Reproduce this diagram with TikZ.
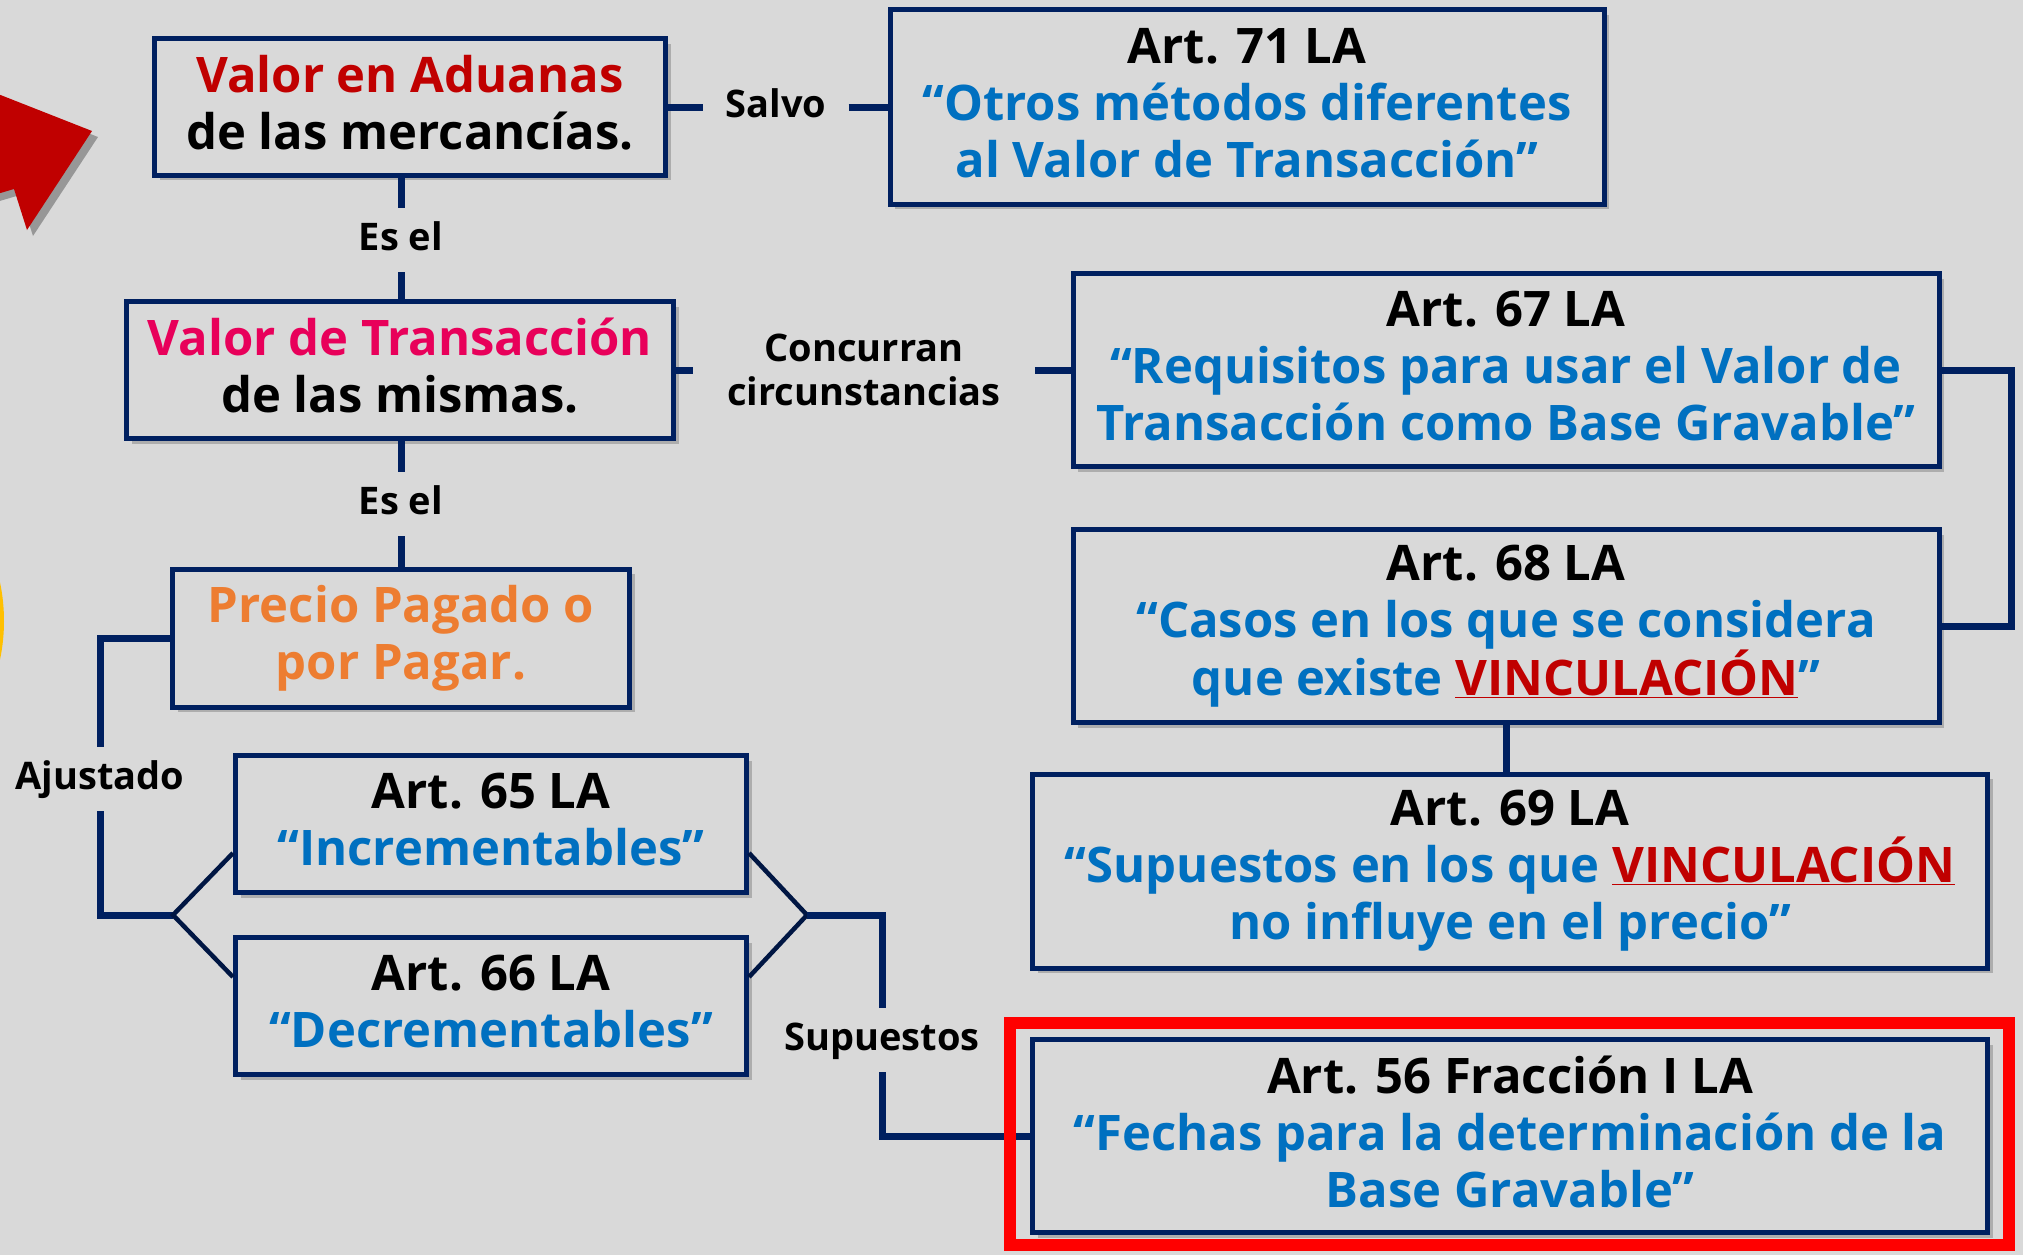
\documentclass[tikz,border=0pt]{standalone}
\usepackage{fontspec}
\setmainfont{Open Sans}
\usetikzlibrary{shadows}

\definecolor{fondo}{HTML}{D9D9D9}
\definecolor{marino}{HTML}{002060}
\definecolor{rojoad}{HTML}{C00000}
\definecolor{rosa}{HTML}{E8005A}
\definecolor{naranja}{HTML}{ED7D31}
\definecolor{azulart}{HTML}{0070C0}
\definecolor{oro}{HTML}{FFC000}

\newcommand{\azul}[1]{\textcolor{azulart}{#1}}
\newcommand{\vinc}{\textcolor{rojoad}{\underline{VINCULACIÓN}}}

\tikzset{
  caja/.style={draw=marino, line width=5pt, fill=fondo, align=center, inner sep=0pt,
    font=\fontsize{49}{57}\selectfont\bfseries,
    execute at end node={\rule[-9pt]{0pt}{0pt}},
    drop shadow={shadow xshift=5pt, shadow yshift=-5pt, fill=black, opacity=.2}},
  etiq/.style={align=center, inner xsep=22pt, inner ysep=13pt, text height=29pt, text depth=9pt,
    font=\fontsize{38}{44}\selectfont\bfseries},
  con/.style={draw=marino, line width=7pt},
  diag/.style={draw=marino!70!black, line width=4.5pt},
}

\begin{document}
\begin{tikzpicture}[x=1pt,y=-1pt]
\useasboundingbox (0,0) rectangle (2023,1255);
\clip (0,0) rectangle (2023,1255);
\fill[fondo] (0,0) rectangle (2023,1255);
% restos de la diapositiva en el borde izquierdo
\fill[oro] (-183,621) circle[radius=187];
\fill[rojoad, drop shadow={shadow xshift=6pt, shadow yshift=-6pt, fill=black, opacity=.3}]
  (-30,83) -- (92,131) -- (27,230) -- (14,189) -- (-30,202) -- cycle;

% cajas
\node[caja, minimum width=511pt, minimum height=136pt] (aduanas) at (410,107)
  {\textcolor{rojoad}{Valor en Aduanas}\\de las mercancías.};
\node[caja, minimum width=714pt, minimum height=194pt] (art71) at (1247,107)
  {Art. 71 LA\\\azul{“Otros métodos diferentes}\\\azul{al Valor de Transacción”}};
\node[caja, minimum width=547pt, minimum height=137pt] (trans) at (400,370)
  {\textcolor{rosa}{Valor de Transacción}\\de las mismas.};
\node[caja, minimum width=866pt, minimum height=193pt] (art67) at (1506,370)
  {Art. 67 LA\\\azul{“Requisitos para usar el Valor de}\\\azul{Transacción como Base Gravable”}};
\node[caja, minimum width=866pt, minimum height=193pt] (art68) at (1506,626)
  {Art. 68 LA\\\azul{“Casos en los que se considera}\\\azul{que existe }\vinc\azul{”}};
\node[caja, minimum width=955pt, minimum height=194pt] (art69) at (1510,871)
  {Art. 69 LA\\\azul{“Supuestos en los que }\vinc\\\azul{no influye en el precio”}};
\node[caja, minimum width=457pt, minimum height=138pt] (precio) at (401,638)
  {\textcolor{naranja}{Precio Pagado o}\\\textcolor{naranja}{por Pagar.}};
\node[caja, minimum width=511pt, minimum height=137pt] (art65) at (491,824)
  {Art. 65 LA\\\azul{“Incrementables”}};
\node[caja, minimum width=511pt, minimum height=137pt] (art66) at (491,1006)
  {Art. 66 LA\\\azul{“Decrementables”}};
\node[caja, minimum width=955pt, minimum height=193pt] (art56) at (1510,1136)
  {Art. 56 Fracción I LA\\\azul{“Fechas para la determinación de la}\\\azul{Base Gravable”}};

% etiquetas
\node[etiq] (salvo) at (776,107) {Salvo};
\node[etiq] (esel1) at (401,240) {Es el};
\node[etiq, inner xsep=34pt, text height=, text depth=] (concurran) at (864,370) {Concurran\\circunstancias};
\node[etiq] (esel2) at (401,504) {Es el};
\node[etiq] (ajustado) at (100,779) {Ajustado};
\node[etiq] (supuestos) at (882,1040) {Supuestos};
\coordinate (rt) at (2011,370);
\coordinate (jl) at (173,915);
\coordinate (jr) at (807,915);

% conectores
\draw[con] (aduanas) -- (salvo);
\draw[con] (salvo) -- (art71);
\draw[con] (aduanas.south -| esel1) -- (esel1);
\draw[con] (esel1) -- (esel1 |- trans.north);
\draw[con] (trans) -- (concurran);
\draw[con] (concurran) -- (art67);
\draw[con] (trans.south -| esel2) -- (esel2);
\draw[con] (esel2) -- (esel2 |- precio.north);
\draw[con] (art67.east) -- (rt) |- (art68.east);
\draw[con] (art68.south) -- (art68.south |- art69.north);
\draw[con] (precio.west) -| (ajustado);
\draw[con] (ajustado) |- (jl);
\draw[diag] ([yshift=-29pt]art65.west) -- (jl) -- ([yshift=29pt]art66.west);
\draw[diag] ([yshift=-29pt]art65.east) -- (jr) -- ([yshift=29pt]art66.east);
\draw[con] (jr) -| (supuestos);
\draw[con] (supuestos) |- (art56.west);

% resaltado
\draw[red, line width=12pt] (1010,1023) rectangle (2009,1245);
\end{tikzpicture}
\end{document}
